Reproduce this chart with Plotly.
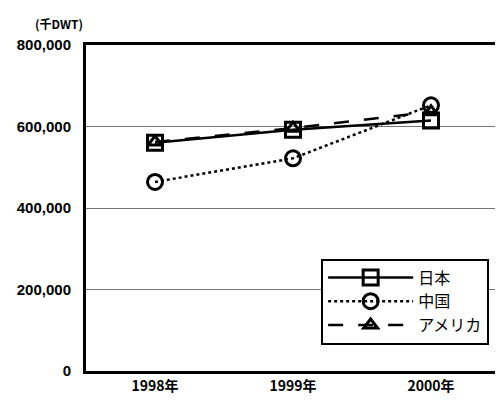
import plotly.graph_objects as go

years = ["1998年", "1999年", "2000年"]
japan = [560000, 592000, 615000]
china = [464000, 522000, 652000]
usa = [562000, 596000, 636000]
series_names = ["日本", "中国", "アメリカ"]
yticks = [0, 200000, 400000, 600000, 800000]
ytick_labels = ["0", "200,000", "400,000", "600,000", "800,000"]

fig = go.Figure()
fig.add_trace(go.Scatter(x=years, y=japan, name=series_names[0], mode="lines+markers",
                         line=dict(color="black", width=2.5, dash="solid"),
                         marker=dict(symbol="square-open", size=15, color="black", line=dict(width=3))))
fig.add_trace(go.Scatter(x=years, y=china, name=series_names[1], mode="lines+markers",
                         line=dict(color="black", width=2.5, dash="dot"),
                         marker=dict(symbol="circle-open", size=15, color="black", line=dict(width=3))))
fig.add_trace(go.Scatter(x=years, y=usa, name=series_names[2], mode="lines+markers",
                         line=dict(color="black", width=2.5, dash="longdash"),
                         marker=dict(symbol="triangle-up-open", size=12, color="black", line=dict(width=3))))

fig.update_layout(
    width=495, height=396,
    margin=dict(l=78, r=3, t=37, b=33, autoexpand=False),
    paper_bgcolor="white", plot_bgcolor="white",
    font=dict(family="Noto Sans CJK JP, Arial", color="black", size=12),
    showlegend=True,
    legend=dict(x=0.568, y=0.345, xanchor="left", yanchor="top",
                bordercolor="black", borderwidth=2, bgcolor="white",
                font=dict(size=16, family="Noto Sans CJK JP"),
                tracegroupgap=0, itemwidth=85),
    xaxis=dict(type="category", range=[-0.5, 2.5], showgrid=False, automargin=False,
               showline=True, linecolor="black", linewidth=3, mirror=True,
               ticks="", tickfont=dict(size=14, family="Noto Sans CJK JP", weight="bold")),
    yaxis=dict(range=[0, 800000], tickvals=yticks, ticktext=ytick_labels, automargin=False,
               showgrid=True, gridcolor="#777777", gridwidth=1,
               showline=True, linecolor="black", linewidth=3, mirror=True,
               ticks="", zeroline=False, ticklabelstandoff=9,
               tickfont=dict(size=15, family="Arial", weight="bold")),
)
fig.layout.annotations = [dict(text="(千DWT)", x=-0.128, y=1.035, xref="paper", yref="paper",
                               xanchor="left", yanchor="bottom", showarrow=False,
                               font=dict(size=12, family="Noto Sans CJK JP", weight="bold"))]
fig.write_html("out.html")
